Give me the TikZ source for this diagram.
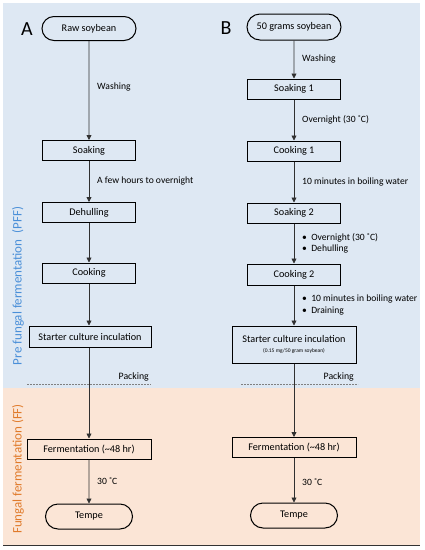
\documentclass[tikz,border=0pt]{standalone}
\usepackage{fontspec}
\setmainfont{Carlito}
\usetikzlibrary{arrows.meta,shapes.misc}
\definecolor{pffbg}{HTML}{DEE8F3}
\definecolor{ffbg}{HTML}{FBE5D6}
\definecolor{pfftxt}{HTML}{4A8FD8}
\definecolor{fftxt}{HTML}{E07A2A}
\definecolor{arrgray}{HTML}{303030}
\begin{document}
\begin{tikzpicture}[x=1pt,y=-1pt,
  box/.style={draw=black, line width=1pt, minimum height=20pt, inner sep=0pt, font=\fontsize{10.2}{12}\selectfont},
  term/.style={draw=black, line width=1pt, rounded rectangle, minimum height=24pt, inner sep=0pt, font=\fontsize{10.2}{12}\selectfont},
  lbl/.style={anchor=west, inner sep=0pt, align=left, font=\fontsize{9.6}{11.5}\selectfont},
  arr/.style={draw=arrgray, line width=0.8pt, -{Triangle[width=5pt,length=5pt]}},
  packline/.style={draw=gray, line width=0.7pt, dash pattern=on 2pt off 1pt},
  letter/.style={font=\fontsize{20}{22}\selectfont},
  side/.style={rotate=90, inner sep=0pt, font=\fontsize{13}{14}\selectfont}
]
\useasboundingbox (0,0) rectangle (424,550);
% backgrounds
\fill[pffbg] (3,3) rectangle (420,388);
\fill[ffbg] (3,388) rectangle (420,545);
\draw[black!80, line width=0.8pt] (3,545) -- (420,545);
% side labels
\node[side, text=pfftxt] (pff) at (18,286) {Pre fungal fermentation~~(PFF)};
\node[side, text=fftxt] (ff) at (18,469) {Fungal fermentation (FF)};
% letters
\node[letter] (la) at (27,29) {A};
\node[letter] (lb) at (226,28) {B};
% column A
\node[term, minimum width=94pt] (rawA) at (89,28.5) {Raw soybean};
\node[box, minimum width=93pt] (soakA) at (89,150.5) {Soaking};
\node[box, minimum width=93pt] (dehA) at (89,212.5) {Dehulling};
\node[box, minimum width=93pt] (cookA) at (89,273) {Cooking};
\node[box, minimum width=122pt, minimum height=21pt] (startA) at (90,336.5) {Starter culture inculation};
\node[box, minimum width=124pt] (fermA) at (89,449) {Fermentation (\textasciitilde48 hr)};
\node[term, minimum width=87pt, minimum height=25pt] (tempA) at (89,516.5) {Tempe};
\draw[arr] (rawA) -- (soakA);
\draw[arr] (soakA) -- (dehA);
\draw[arr] (dehA) -- (cookA);
\draw[arr] (cookA) -- (cookA |- startA.north);
\draw[arr] (startA.south -| fermA) -- (fermA);
\draw[arr] (fermA) -- (tempA);
\node[lbl] (wA) at (97,87) {Washing};
\node[lbl] (fewA) at (97,181) {A few hours to overnight};
\node[lbl] (tA) at (97,481) {30 ˚C};
\coordinate (dA1) at (27,384);
\coordinate (dA2) at (151,384);
\draw[packline] (dA1) -- (dA2);
\node[anchor=east, inner sep=0pt, font=\fontsize{9.8}{11}\selectfont] (pA) at (149,377) {Packing};
% column B
\node[term, minimum width=94pt, minimum height=26pt] (rawB) at (294,27) {50 grams soybean};
\node[box, minimum width=93pt] (soak1) at (294,89) {Soaking 1};
\node[box, minimum width=93pt] (cook1) at (294,151) {Cooking 1};
\node[box, minimum width=93pt] (soak2) at (294,213) {Soaking 2};
\node[box, minimum width=93pt, minimum height=21pt] (cook2) at (294,274.5) {Cooking 2};
\node[box, minimum width=124pt, minimum height=37pt, align=center] (startB) at (294,344.5) {Starter culture inculation\\[-2pt]{\fontsize{5.5}{6}\selectfont (0.15 mg/50 gram soybean)}};
\node[box, minimum width=124pt] (fermB) at (294,447.5) {Fermentation (\textasciitilde48 hr)};
\node[term, minimum width=87pt, minimum height=25pt] (tempB) at (294,515.5) {Tempe};
\draw[arr] (rawB) -- (soak1);
\draw[arr] (soak1) -- (cook1);
\draw[arr] (cook1) -- (soak2);
\draw[arr] (soak2) -- (cook2);
\draw[arr] (cook2) -- (startB);
\draw[arr] (startB) -- (fermB);
\draw[arr] (fermB) -- (tempB);
\node[lbl] (wB) at (302,59) {Washing};
\node[lbl] (oB) at (302,120) {Overnight (30 ˚C)};
\node[lbl] (mB) at (302,182) {10 minutes in boiling water};
\node[lbl] (b1) at (302,243.5) {•~~Overnight (30 ˚C)\\•~~Dehulling};
\node[lbl] (b2) at (302,305) {•~~10 minutes in boiling water\\•~~Draining};
\node[lbl] (tB) at (302,482) {30 ˚C};
\coordinate (dB1) at (241,384);
\coordinate (dB2) at (358,384);
\draw[packline] (dB1) -- (dB2);
\node[anchor=east, inner sep=0pt, font=\fontsize{9.8}{11}\selectfont] (pB) at (354,377) {Packing};
\end{tikzpicture}
\end{document}
